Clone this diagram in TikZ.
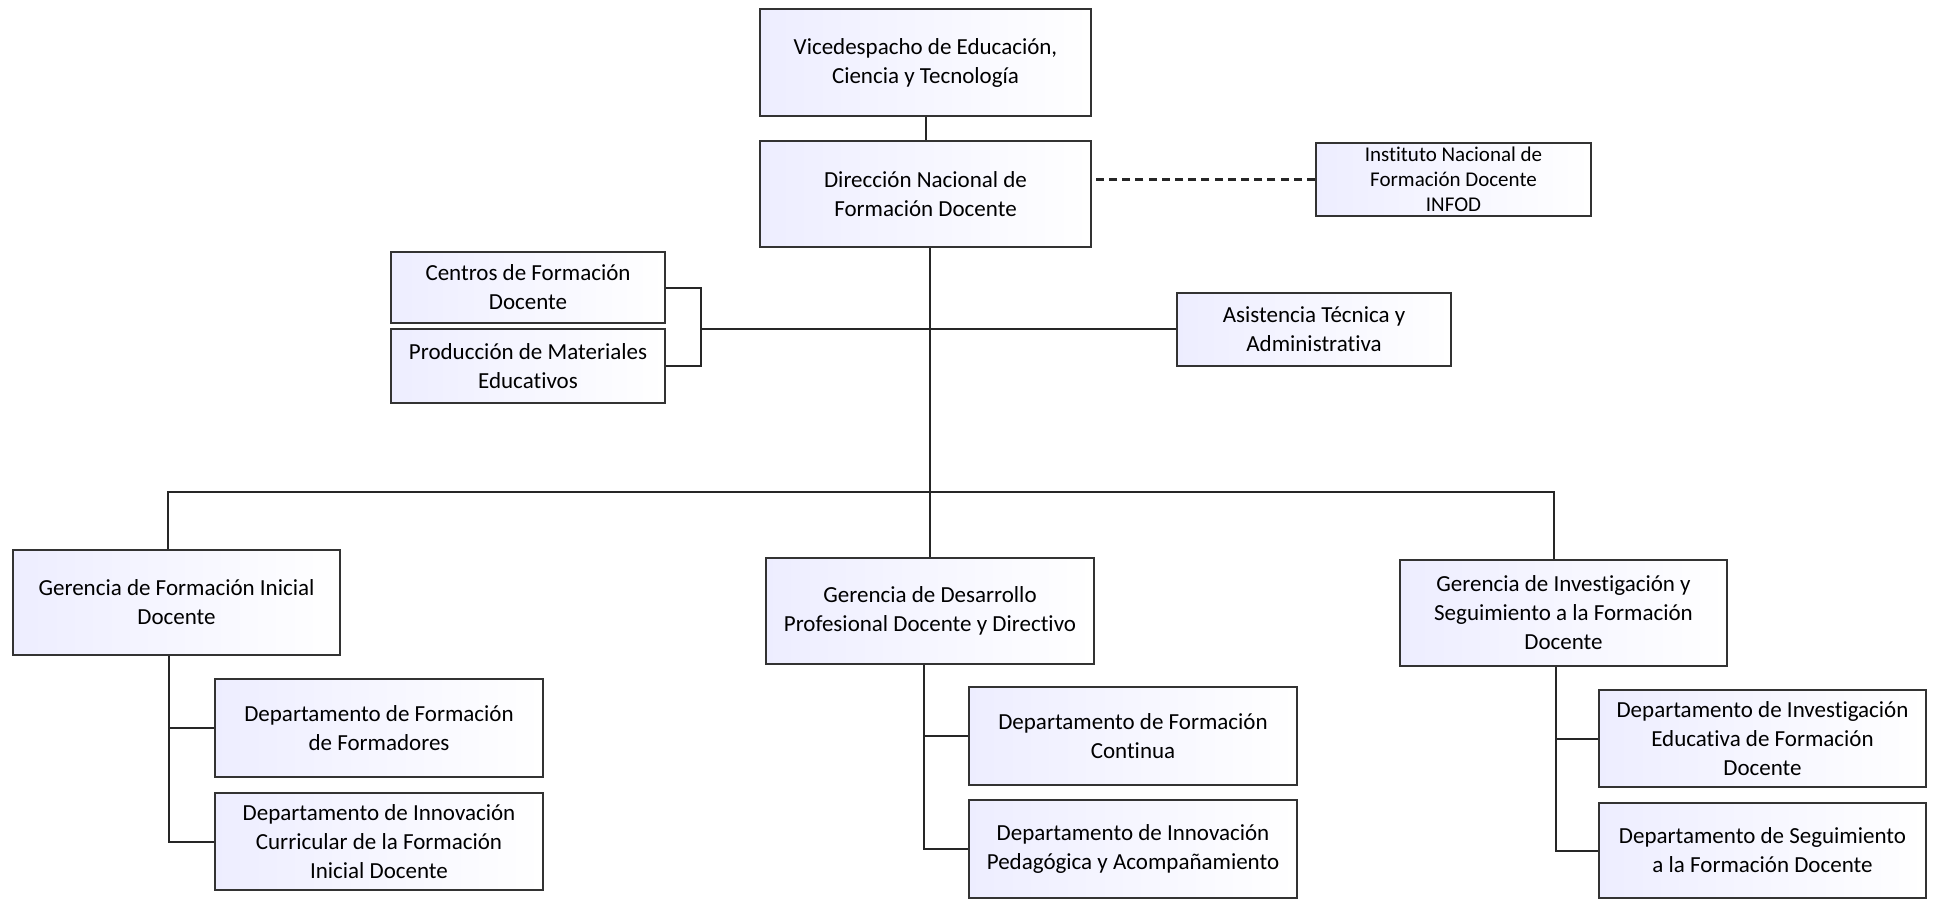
\documentclass[tikz,border=0pt]{standalone}
\usepackage{fontspec}
\setmainfont{Carlito}[Ligatures=NoCommon]
\usetikzlibrary{positioning,calc}

\begin{document}
\begin{tikzpicture}[x=0.5pt, y=-0.5pt,
    unit/.style 2 args={draw=black!80, line width=1pt, left color=blue!7, right color=white,
        align=center, inner sep=1pt, minimum width=#1, minimum height=#2,
        font=\fontsize{11.5}{14.5}\selectfont},
    link/.style={draw=black!85, line width=1pt},
    loose/.style={draw=black!85, line width=1.1pt, dash pattern=on 4pt off 2.6pt}]

    % Page
    \useasboundingbox[fill=white] (0,0) rectangle (1934,899);

    % Top of the chart
    \node[unit={165.5pt}{53.5pt}] (vice) at (925.5,62.5) {Vicedespacho de Educación,\\Ciencia y Tecnología};
    \node[unit={165.5pt}{53pt}] (dnfd) at (925.5,194) {Dirección Nacional de\\Formación Docente};
    \node[unit={137.5pt}{36.5pt}, inner sep=0pt, font=\fontsize{10.5}{12.5}\selectfont] (infod) at (1453.5,179.5) {Instituto Nacional de\\Formación Docente\\INFOD};

    % Staff units
    \node[unit={137pt}{35.5pt}] (centros) at (528,287.5) {Centros de Formación\\Docente};
    \node[unit={137pt}{37pt}] (prod) at (528,366) {Producción de Materiales\\Educativos};
    \node[unit={137pt}{36.5pt}] (asist) at (1314,329.5) {Asistencia Técnica y\\Administrativa};

    % Gerencias
    \node[unit={163.5pt}{52.5pt}] (gini) at (176.5,602.5) {Gerencia de Formación Inicial\\Docente};
    \node[unit={164pt}{53pt}] (gdes) at (930,611) {Gerencia de Desarrollo\\Profesional Docente y Directivo};
    \node[unit={163.5pt}{53pt}] (ginv) at (1563.5,613) {Gerencia de Investigación y\\Seguimiento a la Formación\\Docente};

    % Departamentos
    \node[unit={164pt}{49pt}] (dff) at (379,728) {Departamento de Formación\\de Formadores};
    \node[unit={164pt}{48.5pt}] (dicu) at (379,841.5) {Departamento de Innovación\\Curricular de la Formación\\Inicial Docente};
    \node[unit={164pt}{49pt}] (dfc) at (1133,736) {Departamento de Formación\\Continua};
    \node[unit={164pt}{49pt}] (dip) at (1133,849) {Departamento de Innovación\\Pedagógica y Acompañamiento};
    \node[unit={163.5pt}{48.5pt}] (die) at (1762.5,738.5) {Departamento de Investigación\\Educativa de Formación\\Docente};
    \node[unit={163.5pt}{47.5pt}] (dsf) at (1762.5,850.5) {Departamento de Seguimiento\\a la Formación Docente};

    % Lines
    \coordinate (trunk) at (930,492);
    \coordinate (bracket) at (701,329);
    \draw[link] (vice.south) -- (dnfd.north);
    \draw[loose] (infod.west) -- (infod.west -| dnfd.east);
    \draw[link] (dnfd.south -| trunk) -- (gdes.north -| trunk);
    \draw[link] (centros.east) -| (bracket) |- (prod.east);
    \draw[link] (bracket) -- (asist.west |- bracket);
    \draw[link] (gini.north -| 168,0) -- (168,492) -- (1554,492) -- (ginv.north -| 1554,0);

    % Sub-branches
    \foreach \g/\a/\b/\dx in {gini/dff/dicu/-8, gdes/dfc/dip/-6, ginv/die/dsf/-8} {
        \draw[link] ($(\g.south)+(\dx,0)$) |- (\b.west);
        \draw[link] ($(\g.south)+(\dx,0)$) |- (\a.west);
    }
\end{tikzpicture}
\end{document}
